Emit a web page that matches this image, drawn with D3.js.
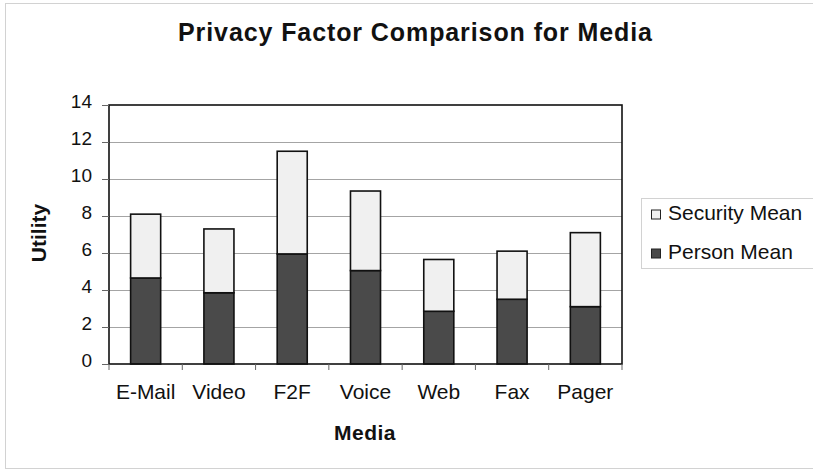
<!DOCTYPE html>
<html>
<head>
<meta charset="utf-8">
<script src="https://cdn.jsdelivr.net/npm/d3@7"></script>
<style>
  html, body { margin: 0; padding: 0; background: #fff; }
  svg { display: block; font-family: "Liberation Sans", Arial, sans-serif; }
</style>
</head>
<body>
<svg id="chart" width="813" height="471"></svg>
<script>
// Media types and the two stacked components of the privacy utility
const media = ["E-Mail", "Video", "F2F", "Voice", "Web", "Fax", "Pager"];
const personMean = [4.65, 3.85, 5.95, 5.05, 2.85, 3.5, 3.1];
const securityMean = [3.45, 3.45, 5.55, 4.3, 2.8, 2.6, 4.0];
const yTicks = [0, 2, 4, 6, 8, 10, 12, 14];
const seriesNames = ["Person Mean", "Security Mean"];

const svg = d3.select("#chart");
const W = 813, H = 471;
const plot = { left: 109, right: 622, top: 105, bottom: 364 };

// outer frame of the chart
svg.append("rect")
  .attr("x", 5.5).attr("y", 3.5)
  .attr("width", W + 10).attr("height", H - 6)
  .attr("fill", "#fff").attr("stroke", "#d2d2d2").attr("stroke-width", 1);

const x = d3.scaleBand().domain(media).range([plot.left, plot.right]).paddingInner(0.59).paddingOuter(0.295);
const xOuter = d3.scaleBand().domain(media).range([plot.left, plot.right]);
const y = d3.scaleLinear().domain([0, 14]).range([plot.bottom, plot.top]);

// horizontal gridlines
svg.append("g").selectAll("line").data(yTicks.filter(t => t > 0 && t < 14)).join("line")
  .attr("x1", plot.left).attr("x2", plot.right)
  .attr("y1", d => Math.round(y(d)) + 0.5).attr("y2", d => Math.round(y(d)) + 0.5)
  .attr("stroke", "#a4a4a4").attr("stroke-width", 1);

// stacked bars
const rows = media.map((m, i) => ({ media: m, "Person Mean": personMean[i], "Security Mean": securityMean[i] }));
const stacked = d3.stack().keys(seriesNames)(rows);
const fills = { "Person Mean": "#4a4a4a", "Security Mean": "#f0f0f0" };

svg.append("g").selectAll("g").data(stacked).join("g")
  .attr("fill", d => fills[d.key])
  .selectAll("rect").data(d => d).join("rect")
  .attr("x", d => x(d.data.media))
  .attr("width", x.bandwidth())
  .attr("y", d => y(d[1]))
  .attr("height", d => y(d[0]) - y(d[1]))
  .attr("stroke", "#111").attr("stroke-width", 1.6);

// plot area border
svg.append("rect")
  .attr("x", plot.left).attr("y", plot.top)
  .attr("width", plot.right - plot.left).attr("height", plot.bottom - plot.top)
  .attr("fill", "none").attr("stroke", "#111").attr("stroke-width", 1.6);

// y axis
const yAxis = d3.axisLeft(y).tickValues(yTicks).tickSize(7).tickPadding(10).tickFormat(d3.format("d"));
const gy = svg.append("g").attr("transform", `translate(${plot.left},0)`).call(yAxis);
gy.select(".domain").remove();
gy.selectAll("line").attr("stroke", "#666");
gy.selectAll("text").attr("font-size", 19).attr("dy", "0.12em").attr("fill", "#111")
  .attr("font-family", "Liberation Sans, Arial, sans-serif");

// x axis: ticks at category boundaries, labels centred
const gx = svg.append("g").attr("transform", `translate(0,${plot.bottom})`);
const bounds = media.map(m => xOuter(m)).concat([plot.right]);
gx.selectAll("line").data(bounds).join("line")
  .attr("x1", d => d).attr("x2", d => d).attr("y1", 0).attr("y2", 6)
  .attr("stroke", "#666");
gx.selectAll("text").data(media).join("text")
  .attr("x", d => xOuter(d) + xOuter.bandwidth() / 2)
  .attr("y", 34.5)
  .attr("text-anchor", "middle")
  .attr("font-size", 21).attr("fill", "#111")
  .text(d => d);

// titles
svg.append("text").attr("x", 178).attr("y", 41)
  .attr("font-size", 25).attr("font-weight", "bold").attr("fill", "#111")
  .attr("textLength", 474).attr("lengthAdjust", "spacing")
  .text("Privacy Factor Comparison for Media");
svg.append("text").attr("x", 365).attr("y", 440)
  .attr("text-anchor", "middle")
  .attr("font-size", 21).attr("font-weight", "bold").attr("fill", "#111")
  .attr("letter-spacing", 0.5)
  .text("Media");
svg.append("text").attr("transform", `translate(46,233) rotate(-90)`)
  .attr("text-anchor", "middle")
  .attr("font-size", 21).attr("font-weight", "bold").attr("fill", "#111")
  .text("Utility");

// legend
const lg = svg.append("g");
lg.append("rect").attr("x", 641.5).attr("y", 198.5).attr("width", 190).attr("height", 70)
  .attr("fill", "#fff").attr("stroke", "#d2d2d2");
const legendItems = ["Security Mean", "Person Mean"];
legendItems.forEach((k, i) => {
  const base = 219.5 + i * 39;
  lg.append("rect").attr("x", 651.5).attr("y", base - 9.5).attr("width", 9).attr("height", 9)
    .attr("fill", fills[k]).attr("stroke", "#222").attr("stroke-width", 1);
  lg.append("text").attr("x", 668).attr("y", base).attr("font-size", 21).attr("fill", "#111").text(k);
});
</script>
</body>
</html>
